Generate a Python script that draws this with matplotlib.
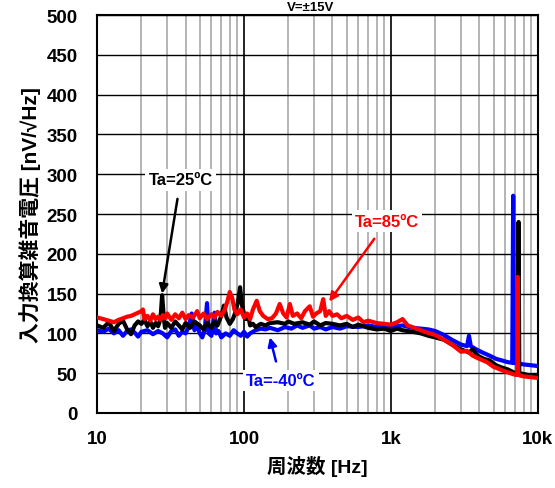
import matplotlib
matplotlib.use("Agg")
import matplotlib.pyplot as plt
from matplotlib.ticker import FixedLocator, FixedFormatter, LogLocator, NullFormatter

plt.rcParams['font.family'] = ['Liberation Sans', 'Noto Sans CJK JP', 'DejaVu Sans']
plt.rcParams['font.weight'] = 'bold'

# Ta = 25C (black)
f_25 = [10, 11, 12, 13, 14, 15, 16, 17, 18, 19, 20, 21, 22, 23, 24, 25, 26, 27, 27.7, 28.5,
        29, 30, 32, 34, 36, 38, 40, 43, 46, 50, 53, 56, 60, 63, 66, 70, 73, 76, 80, 84,
        88, 91, 94, 97, 100, 103, 107, 110, 115, 120, 130, 140, 150, 170, 190, 200, 220, 250, 280, 300,
        330, 360, 400, 450, 500, 550, 600, 700, 800, 900, 1000, 1100, 1200, 1400, 1600, 1800, 2000, 2300, 2600, 3000,
        3400, 3600, 3900, 4300, 4700, 5200, 5700, 6200, 6700, 7000, 7300, 7400, 7480, 8000, 9000, 10000]
v_25 = [110, 107, 114, 103, 112, 116, 105, 99, 110, 115, 112, 117, 109, 115, 107, 113, 109, 118, 148, 118,
        107, 113, 107, 115, 110, 105, 113, 107, 115, 110, 105, 113, 107, 115, 110, 122, 135, 120, 112, 118,
        128, 140, 158, 135, 125, 118, 122, 110, 112, 108, 112, 110, 113, 114, 112, 115, 112, 114, 111, 115,
        110, 113, 112, 110, 112, 108, 111, 107, 105, 106, 103, 106, 104, 102, 100, 97, 95, 92, 86, 80,
        76, 80, 72, 68, 66, 60, 57, 55, 52, 50, 50, 240, 50, 49, 47, 46]

# Ta = -40C (blue)
f_m40 = [10, 11, 12, 13, 14, 15, 16, 17, 18, 19, 20, 22, 24, 26, 28, 30, 32, 34, 36, 38,
         40, 42, 44, 46, 48, 50, 52, 54, 56, 57.5, 60, 63, 64.5, 67, 70, 75, 80, 85, 90, 95,
         100, 105, 110, 120, 130, 140, 150, 170, 190, 210, 230, 250, 280, 300, 330, 360, 400, 450, 500, 600,
         700, 800, 900, 1000, 1200, 1400, 1600, 1800, 2000, 2300, 2600, 3000, 3300, 3400, 3500, 3800, 4200, 4700, 5200, 5700,
         6200, 6700, 6800, 6900, 7500, 8000, 9000, 10000]
v_m40 = [104, 102, 106, 100, 104, 97, 103, 105, 101, 96, 102, 104, 99, 103, 100, 95, 103, 105, 97, 102,
         100, 108, 125, 104, 110, 100, 95, 104, 138, 100, 97, 126, 100, 103, 95, 100, 97, 104, 100, 97,
         102, 96, 100, 104, 106, 105, 107, 104, 108, 106, 110, 107, 110, 106, 108, 105, 108, 106, 109, 108,
         110, 108, 109, 108, 110, 107, 106, 105, 103, 98, 92, 86, 84, 97, 84, 80, 76, 72, 68, 66,
         64, 63, 273, 63, 62, 61, 60, 59]

# Ta = 85C (red)
f_85 = [10, 11, 12, 13, 14, 15, 16, 17, 18, 19, 20, 20.5, 21, 22, 23, 24, 25, 26, 27, 28,
        29, 30, 32, 34, 36, 38, 40, 42, 45, 48, 50, 53, 56, 60, 63, 66, 70, 74, 77, 80,
        83, 86, 90, 95, 100, 105, 110, 115, 122, 128, 135, 145, 155, 165, 175, 185, 195, 205, 215, 230,
        245, 260, 280, 295, 310, 330, 346, 360, 380, 400, 430, 460, 500, 550, 600, 650, 700, 800, 900, 1000,
        1100, 1200, 1300, 1500, 1700, 2000, 2300, 2600, 3000, 3300, 3600, 4000, 4500, 5000, 5500, 6000, 6500, 7000, 7250, 7300,
        7350, 7600, 8000, 9000, 10000]
v_85 = [120, 118, 116, 114, 117, 119, 121, 122, 124, 126, 128, 130, 118, 122, 116, 124, 118, 121, 117, 123,
        119, 125, 117, 124, 119, 126, 118, 123, 120, 128, 119, 125, 118, 124, 120, 127, 122, 130, 140, 152,
        145, 130, 124, 130, 120, 125, 118, 130, 141, 128, 122, 118, 119, 125, 137, 125, 120, 137, 122, 125,
        119, 128, 134, 121, 125, 128, 143, 122, 128, 122, 124, 119, 122, 117, 120, 114, 116, 113, 112, 111,
        114, 118, 110, 106, 102, 98, 92, 86, 77, 78, 72, 68, 64, 58, 55, 52, 50, 48, 48, 171,
        48, 47, 46, 45, 44]

x_ticks = [10, 100, 1000, 10000]
x_labels = ['10', '100', '1k', '10k']
y_ticks = [0, 50, 100, 150, 200, 250, 300, 350, 400, 450, 500]

fig = plt.figure(figsize=(5.55, 4.89), dpi=100)
ax = fig.add_axes([0.175, 0.1534, 0.794, 0.8138])

ax.plot(f_m40, v_m40, color='#0000ff', lw=3, zorder=3)
ax.plot(f_25, v_25, color='black', lw=3, zorder=4)
ax.plot(f_85, v_85, color='#ff0000', lw=3, zorder=5)

ax.set_xscale('log')
ax.set_xlim(10, 10000)
ax.set_ylim(0, 500)
ax.xaxis.set_major_locator(FixedLocator(x_ticks))
ax.xaxis.set_major_formatter(FixedFormatter(x_labels))
ax.xaxis.set_minor_locator(LogLocator(base=10, subs=range(2, 10)))
ax.xaxis.set_minor_formatter(NullFormatter())
ax.set_yticks(y_ticks)

ax.grid(True, which='major', axis='y', color='black', lw=1.0)
ax.grid(True, which='major', axis='x', color='black', lw=1.2)
ax.grid(True, which='minor', axis='x', color='#a0a0a0', lw=1.1)
ax.set_axisbelow(True)
ax.tick_params(which='both', length=0)
ax.tick_params(axis='y', pad=14, labelsize=13.5)
ax.tick_params(axis='x', pad=12, labelsize=13.5)
for s in ax.spines.values():
    s.set_linewidth(1.5)

ax.set_xlabel('周波数 [Hz]', fontsize=14, fontweight='bold', labelpad=6)
ax.set_ylabel('入力換算雑音電圧 [nV/√Hz]', fontsize=15, fontweight='bold', labelpad=4)

fig.text(0.56, 1.0 - 2 / 489, 'V=±15V', ha='center', va='top', fontsize=9.5, fontweight='bold')

box = dict(boxstyle='square,pad=0.2', fc='white', ec='none')
ax.annotate('Ta=25ºC', xy=(27.7, 150), xytext=(37, 293), textcoords='data',
            ha='center', va='center', fontsize=12, fontweight='bold', color='black', bbox=box,
            arrowprops=dict(arrowstyle='-|>', color='black', lw=1.8, mutation_scale=13, shrinkA=6, shrinkB=0), zorder=6)
ax.annotate('Ta=85ºC', xy=(380, 140), xytext=(940, 241), textcoords='data',
            ha='center', va='center', fontsize=12, fontweight='bold', color='#ff0000', bbox=box,
            arrowprops=dict(arrowstyle='-|>', color='#ff0000', lw=1.8, mutation_scale=13, shrinkA=6, shrinkB=0), zorder=6)
ax.annotate('Ta=-40ºC', xy=(150, 95), xytext=(178, 41), textcoords='data',
            ha='center', va='center', fontsize=12, fontweight='bold', color='#0000ff', bbox=box,
            arrowprops=dict(arrowstyle='-|>', color='#0000ff', lw=1.8, mutation_scale=13, shrinkA=6, shrinkB=0), zorder=6)

fig.savefig('out.png', dpi=100)
